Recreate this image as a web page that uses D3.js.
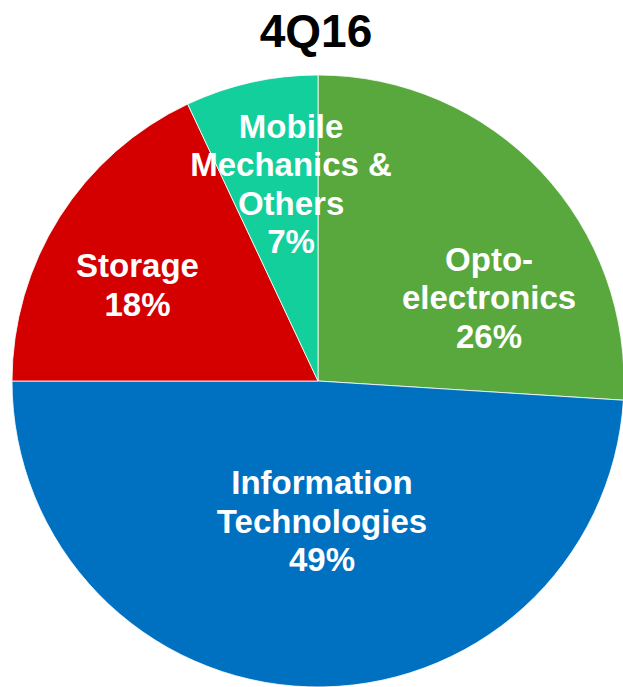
<!DOCTYPE html>
<html>
<head>
<meta charset="utf-8">
<script src="https://cdn.jsdelivr.net/npm/d3@7"></script>
<style>
  body { margin: 0; background: #fff; }
  svg { display: block; }
</style>
</head>
<body>
<svg id="chart"></svg>
<script>
// Segment data, clockwise from 12 o'clock
const segments = ['Opto-electronics', 'Information Technologies', 'Storage', 'Mobile Mechanics & Others'];
const shares = [26, 49, 18, 7];
const labelLines = [
  ['Opto-', 'electronics', '26%'],
  ['Information', 'Technologies', '49%'],
  ['Storage', '18%'],
  ['Mobile', 'Mechanics &', 'Others', '7%']
];
const colors = ['#58A83E', '#0070C0', '#D40000', '#12CF9B'];

const width = 623, height = 687;
const cx = 318, cy = 381, radius = 306;
const fontSize = 33, lineHeight = 38.5, capHeight = 23.5;

// label anchors as fraction of radius (Excel best-fit placement)
const labelAt = [[0.559, -0.273], [0.013, 0.458], [-0.590, -0.315], [-0.088, -0.644]];

const svg = d3.select('#chart')
  .attr('width', width)
  .attr('height', height);

svg.append('text')
  .attr('x', 316)
  .attr('y', 47)
  .attr('text-anchor', 'middle')
  .style('font-family', 'Arial, "Liberation Sans", sans-serif')
  .style('font-weight', 'bold')
  .style('font-size', '46px')
  .style('fill', '#000')
  .text('4Q16');

const pie = d3.pie().sort(null);
const arc = d3.arc().innerRadius(0).outerRadius(radius);

const g = svg.append('g')
  .attr('transform', `translate(${cx}, ${cy})`);

g.selectAll('path')
  .data(pie(shares))
  .enter()
  .append('path')
  .attr('d', arc)
  .attr('fill', (d, i) => colors[i])
  .attr('stroke', '#fff')
  .attr('stroke-width', 0.8)
  .append('title')
  .text((d, i) => `${segments[i]} ${shares[i]}%`);

const labels = g.selectAll('text.seg-label')
  .data(labelLines)
  .enter()
  .append('text')
  .attr('class', 'seg-label')
  .attr('text-anchor', 'middle')
  .style('font-family', 'Arial, "Liberation Sans", sans-serif')
  .style('font-weight', 'bold')
  .style('font-size', fontSize + 'px')
  .style('fill', '#fff');

labels.each(function(lines, i) {
  const x = labelAt[i][0] * radius;
  const yMid = labelAt[i][1] * radius;
  const firstBase = yMid - ((lines.length - 1) * lineHeight - capHeight) / 2;
  d3.select(this).selectAll('tspan')
    .data(lines)
    .enter()
    .append('tspan')
    .attr('x', x)
    .attr('y', (d, j) => firstBase + j * lineHeight)
    .text(d => d);
});
</script>
</body>
</html>
